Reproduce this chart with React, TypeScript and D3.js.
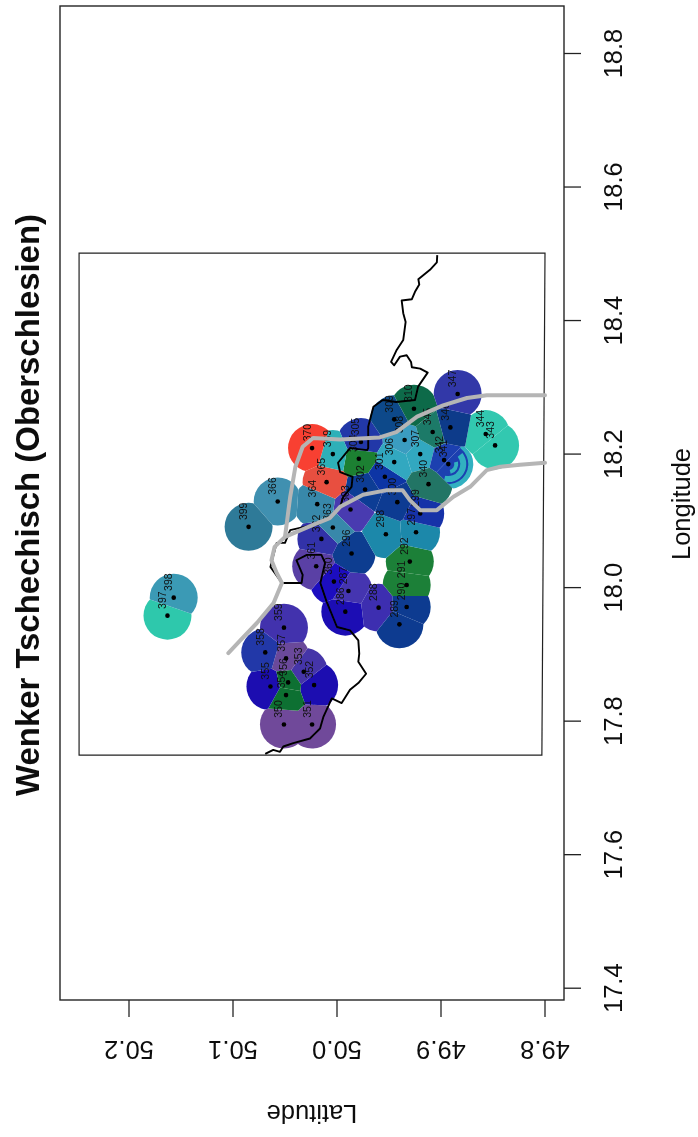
import React from "react";
import * as d3 from "d3";

const stationIds = [286, 287, 288, 289, 290, 291, 292, 296, 297, 298, 299, 300, 301, 302, 303, 304, 305, 306, 307, 308, 309, 310,
  340, 341, 342, 343, 344, 345, 346, 347, 350, 351, 352, 353, 354, 355, 356, 357, 358, 359, 360, 361, 362, 363, 364, 365, 366, 369, 370, 397, 398, 399];
const stationLon = [17.964, 17.995, 17.970, 17.945, 17.971, 18.004, 18.039, 18.051, 18.083, 18.080, 18.111, 18.128, 18.166, 18.147, 18.117, 18.193, 18.218, 18.188, 18.200, 18.221, 18.252, 18.268,
  18.155, 18.185, 18.191, 18.213, 18.230, 18.233, 18.240, 18.290, 17.795, 17.795, 17.854, 17.874, 17.839, 17.852, 17.858, 17.894, 17.903, 17.940, 18.009, 18.032, 18.073, 18.090, 18.125, 18.158, 18.129, 18.200, 18.209, 17.958, 17.985, 18.091];
const stationLat = [49.992, 49.989, 49.960, 49.940, 49.933, 49.933, 49.930, 49.986, 49.924, 49.953, 49.920, 49.942, 49.954, 49.973, 49.987, 49.979, 49.977, 49.945, 49.920, 49.935, 49.945, 49.926,
  49.912, 49.893, 49.897, 49.848, 49.857, 49.908, 49.891, 49.884, 50.051, 50.024, 50.022, 50.032, 50.049, 50.064, 50.047, 50.049, 50.069, 50.051, 50.003, 50.020, 50.015, 50.004, 50.019, 50.010, 50.057, 50.004, 50.024, 50.163, 50.157, 50.085];
const stationColors = ["#1a10b4", "#4535b0", "#3d2fb0", "#0a3a90", "#0a3a90", "#1a8038", "#1a8038", "#0a3d90", "#1f88aa", "#1f88aa", "#1530a8", "#0a3a92", "#0f35a5", "#0c3c95", "#4a3ab0", "#1a8030", "#2438a8", "#30a8c0", "#30a8c0", "#3a9cc0", "#0a4a8a", "#106a4a",
  "#227565", "#1b3fb0", "#1b3fb0", "#30c8b0", "#30c8b0", "#1f7a68", "#0a3a8a", "#3038a8", "#704a9a", "#704a9a", "#1a10b0", "#4535a8", "#107030", "#1a10b0", "#107030", "#6a4a9a", "#2438a8", "#4233ad", "#1f10c0", "#5a40a5", "#3030a8", "#3888aa", "#3888aa", "#e85040", "#3f90b0", "#2fb0b8", "#f84030", "#2fc8ac", "#3a9ab5", "#2f7a98"];

const lonTicks = [17.4, 17.6, 17.8, 18.0, 18.2, 18.4, 18.6, 18.8];
const latTicks = [49.8, 49.9, 50.0, 50.1, 50.2];

const boxOutline: [number, number][] = [[18.501, 50.248], [18.501, 49.800], [17.749, 49.803], [17.749, 50.248]];
const grayNorth: [number, number][] = [[17.902, 50.1045], [17.921, 50.093], [17.947, 50.077], [17.977, 50.061], [18.007, 50.053], [18.022, 50.058], [18.041, 50.063], [18.061, 50.060], [18.076, 50.050], [18.112, 50.047], [18.136, 50.045], [18.181, 50.040], [18.211, 50.033], [18.224, 50.023], [18.222, 49.997], [18.225, 49.959], [18.233, 49.943], [18.256, 49.923], [18.273, 49.898], [18.284, 49.875], [18.288, 49.856], [18.288, 49.800]];
const graySouth: [number, number][] = [[18.076, 50.050], [18.094, 50.023], [18.104, 50.007], [18.121, 49.997], [18.139, 49.975], [18.146, 49.952], [18.146, 49.937], [18.131, 49.930], [18.116, 49.920], [18.116, 49.904], [18.136, 49.888], [18.151, 49.872], [18.176, 49.856], [18.181, 49.843], [18.184, 49.824], [18.187, 49.800]];
const borderLine: [number, number][] = [[18.498, 49.9036], [18.487, 49.904], [18.476, 49.9106], [18.462, 49.9218], [18.454, 49.9209], [18.443, 49.925], [18.432, 49.928], [18.430, 49.9378], [18.411, 49.9363], [18.398, 49.934], [18.371, 49.9363], [18.356, 49.9426], [18.338, 49.948], [18.333, 49.945], [18.346, 49.9394], [18.348, 49.933], [18.338, 49.9288], [18.330, 49.928], [18.328, 49.920], [18.322, 49.9128], [18.301, 49.922], [18.281, 49.925], [18.278, 49.943], [18.281, 49.956], [18.271, 49.965], [18.241, 49.970], [18.209, 49.970], [18.206, 49.971], [18.209, 49.9875], [18.187, 49.999], [18.173, 49.997], [18.166, 49.985], [18.151, 49.986], [18.136, 49.994], [18.121, 49.997], [18.104, 50.007], [18.094, 50.023], [18.086, 50.045], [18.067, 50.050], [18.067, 50.058], [18.031, 50.064], [18.007, 50.053], [18.007, 50.034], [18.019, 50.033], [18.041, 50.039], [18.049, 50.029], [18.049, 50.015], [18.037, 50.0115], [18.007, 50.016], [17.979, 50.010], [17.941, 50.000], [17.936, 49.9875], [17.921, 49.9795], [17.901, 49.9786], [17.889, 49.9795], [17.871, 49.972], [17.857, 49.9795], [17.847, 49.9875], [17.827, 49.9955], [17.834, 50.005], [17.806, 50.0132], [17.789, 50.0163], [17.774, 50.026], [17.767, 50.042], [17.762, 50.0516], [17.754, 50.0548], [17.757, 50.0613], [17.751, 50.069]];

// crescents round station 341: inner r, outer r (px), start and end angle (rad)
const swirlBands: [number, number, number, number][] = [[6, 10, 1.3, 2.9], [12, 18, 0.9, 3.4], [20, 25, 0.2, 4.0]];

const WIDTH = 698;
const HEIGHT = 1137;
const RADIUS = 24;

export default function App() {
  // the whole figure is an R plot turned 90 degrees: longitude runs up the page, latitude runs leftwards
  const lonScale = d3.scaleLinear().domain([17.4, 18.8]).range([988.2, 53.5]);
  const latScale = d3.scaleLinear().domain([49.8, 50.2]).range([545, 129]);
  const line = d3.line<[number, number]>().x(d => latScale(d[1])).y(d => lonScale(d[0]));

  const pts = stationIds.map((id, i) => ({ id, x: latScale(stationLat[i]), y: lonScale(stationLon[i]), color: stationColors[i] }));
  const voronoi = d3.Delaunay.from(pts, d => d.x, d => d.y).voronoi([0, 0, WIDTH, HEIGHT]);
  const swirlArc = d3.arc<[number, number, number, number]>()
    .innerRadius(d => d[0])
    .outerRadius(d => d[1])
    .startAngle(d => d[2])
    .endAngle(d => d[3]);
  const swirlCenter = pts[stationIds.indexOf(341)];
  const font = "'Liberation Sans', Arial, sans-serif";

  return (
    <svg width={WIDTH} height={HEIGHT} style={{ position: "absolute", left: 0, top: 0, background: "#fff" }} fontFamily={font}>
      <defs>
        <filter id="soft" x="0" y="0" width="100%" height="100%" filterUnits="userSpaceOnUse">
          <feGaussianBlur stdDeviation="0.45" />
        </filter>
        {pts.map((d, i) => (
          <clipPath id={`cell-${d.id}`} key={d.id}>
            <path d={voronoi.renderCell(i)} />
          </clipPath>
        ))}
        <clipPath id="swirl-clip">
          <path d={voronoi.renderCell(stationIds.indexOf(341))} />
        </clipPath>
      </defs>
      <g filter="url(#soft)">
        <rect x={60} y={6} width={504} height={994} fill="none" stroke="#222" strokeWidth={1.4} />

        {/* longitude axis */}
        {lonTicks.map(t => (
          <g key={t} transform={`translate(564,${lonScale(t)})`}>
            <line x2={17} stroke="#222" strokeWidth={1.3} />
            <text x={49} y={0} transform="rotate(-90 49 0)" textAnchor="middle" dominantBaseline="central" fontSize={25.5} fill="#111">{t.toFixed(1)}</text>
          </g>
        ))}
        {/* latitude axis */}
        {latTicks.map(t => (
          <g key={t} transform={`translate(${latScale(t)},1000)`}>
            <line y2={17} stroke="#222" strokeWidth={1.3} />
            <text x={0} y={50} transform="rotate(180 0 50)" textAnchor="middle" dominantBaseline="central" fontSize={25.5} fill="#111">{t.toFixed(1)}</text>
          </g>
        ))}

        <text transform="translate(27,505) rotate(-90)" textAnchor="middle" dominantBaseline="central" fontSize={32.9} fontWeight="bold" fill="#111">Wenker Tschechisch (Oberschlesien)</text>
        <text transform="translate(681,504) rotate(-90)" textAnchor="middle" dominantBaseline="central" fontSize={25.5} fill="#111">Longitude</text>
        <text transform="translate(312,1114) rotate(180)" textAnchor="middle" dominantBaseline="central" fontSize={25.5} fill="#111">Latitude</text>

        <path d={line(boxOutline) + "Z"} fill="none" stroke="#222" strokeWidth={1.2} />

        {pts.map(d => (
          <circle key={d.id} cx={d.x} cy={d.y} r={RADIUS} fill={d.color} clipPath={`url(#cell-${d.id})`} />
        ))}
        <g clipPath="url(#swirl-clip)">
          <g transform={`translate(${swirlCenter.x},${swirlCenter.y})`}>
            {swirlBands.map((b, i) => (
              <path key={i} d={swirlArc(b) as string} fill="#30b0c0" />
            ))}
          </g>
        </g>

        {pts.map(d => (
          <g key={d.id}>
            <circle cx={d.x} cy={d.y} r={2.3} fill="#000" />
            <text transform={`translate(${d.x - 5.5},${d.y - 15.5}) rotate(-90)`} textAnchor="middle" dominantBaseline="central" fontSize={10.5} fill="#111">{d.id}</text>
          </g>
        ))}

        <path d={line(borderLine) as string} fill="none" stroke="#000" strokeWidth={1.9} strokeLinejoin="round" />
        <path d={line(grayNorth) as string} fill="none" stroke="#b5b5b5" strokeWidth={4} strokeLinejoin="round" strokeLinecap="round" />
        <path d={line(graySouth) as string} fill="none" stroke="#b5b5b5" strokeWidth={4} strokeLinejoin="round" strokeLinecap="round" />
      </g>
    </svg>
  );
}
